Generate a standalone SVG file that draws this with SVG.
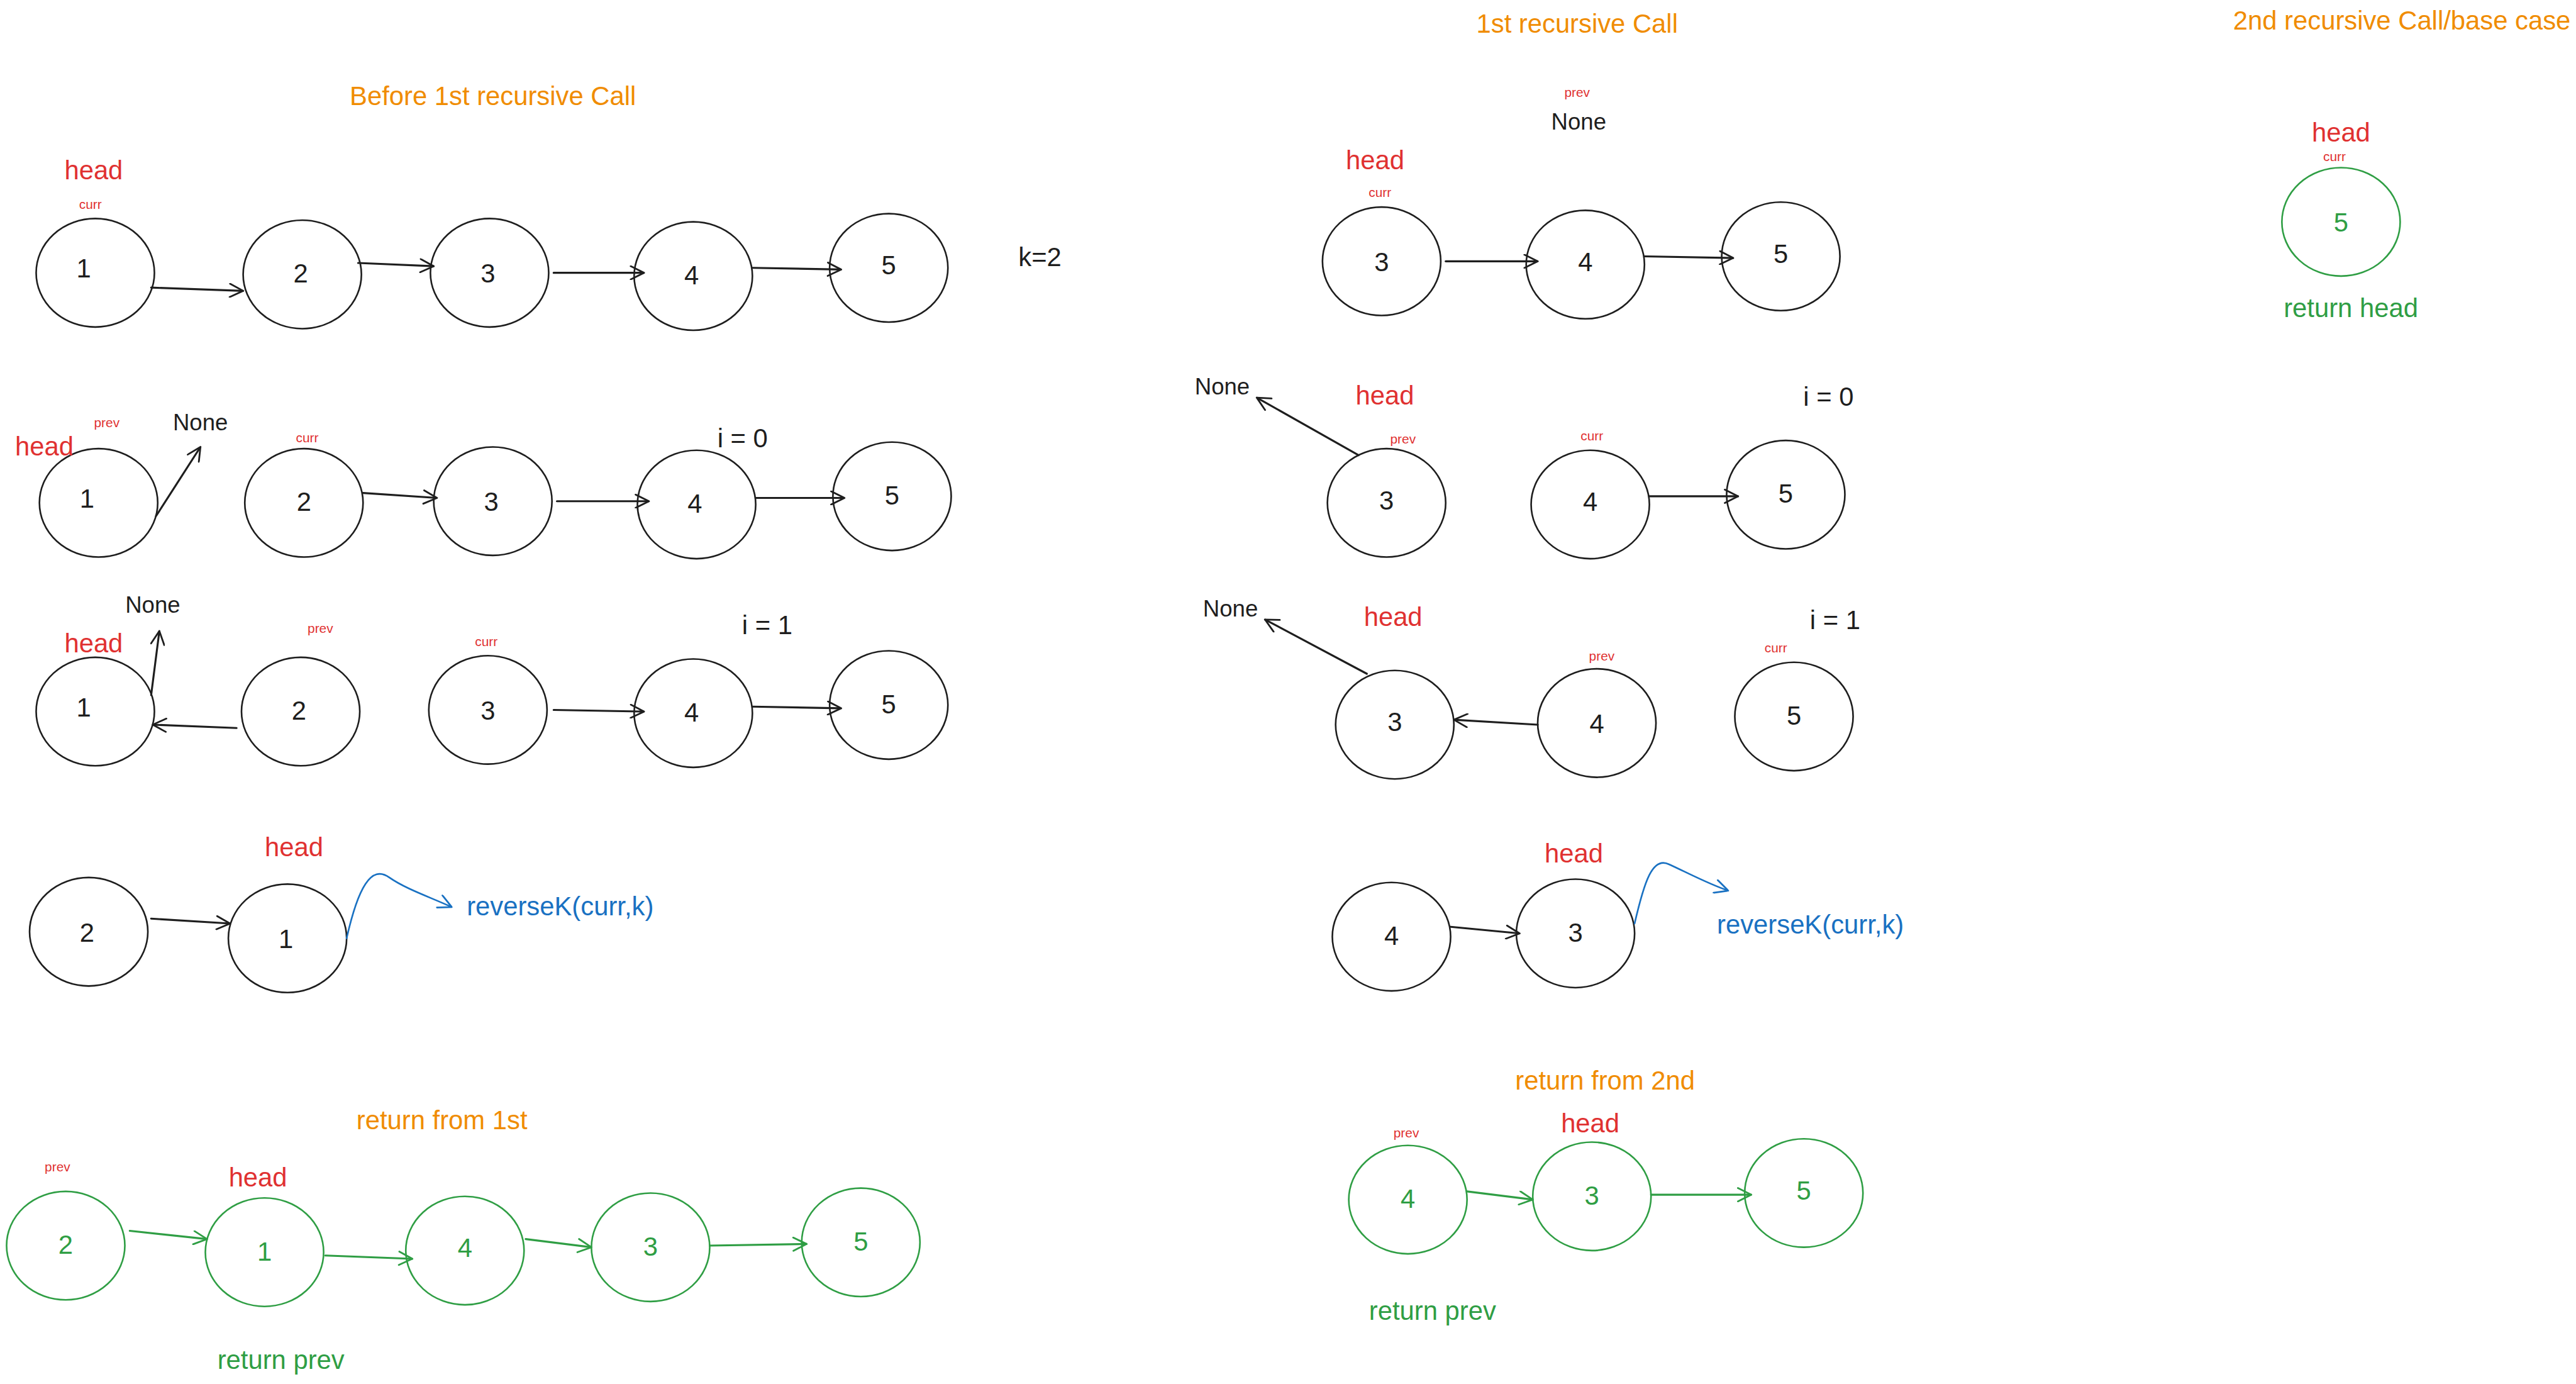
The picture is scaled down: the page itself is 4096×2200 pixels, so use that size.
<svg xmlns="http://www.w3.org/2000/svg" width="4096" height="2200" viewBox="0 0 4096 2200">
<style>
  text { font-family: "Liberation Sans", Arial, sans-serif; text-anchor: middle; }
  .n { fill: none; stroke: #1e1e1e; stroke-width: 1; }
  .ng { fill: none; stroke: #2f9e44; stroke-width: 1; }
  .d { font-size: 16px; fill: #1e1e1e; }
  .dg { font-size: 16px; fill: #2f9e44; }
  .t { font-size: 16px; fill: #f08c00; }
  .h { font-size: 16px; fill: #e03131; }
  .s { font-size: 8px; fill: #e03131; }
  .b { font-size: 16px; fill: #1e1e1e; }
  .none { font-size: 14px; fill: #1e1e1e; }
  .bl { font-size: 16px; fill: #1971c2; }
  .gr { font-size: 16px; fill: #2f9e44; }
  .c { fill: none; stroke: #1e1e1e; stroke-width: 1.2; stroke-linecap: round; marker-end: url(#ak); }
  .cg { fill: none; stroke: #2f9e44; stroke-width: 1.2; stroke-linecap: round; marker-end: url(#ag); }
  .cb { fill: none; stroke: #1971c2; stroke-width: 1; stroke-linecap: round; marker-end: url(#ab); }
</style>
<defs>
  <marker id="ak" viewBox="0 0 10 10" refX="10" refY="5" markerWidth="9" markerHeight="9" markerUnits="userSpaceOnUse" orient="auto">
    <path d="M1,0.5 L10,5 L1,9.5" fill="none" stroke="#1e1e1e" stroke-width="1.2" stroke-linecap="round" stroke-linejoin="round"/>
  </marker>
  <marker id="ag" viewBox="0 0 10 10" refX="10" refY="5" markerWidth="9" markerHeight="9" markerUnits="userSpaceOnUse" orient="auto">
    <path d="M1,0.5 L10,5 L1,9.5" fill="none" stroke="#2f9e44" stroke-width="1.2" stroke-linecap="round" stroke-linejoin="round"/>
  </marker>
  <marker id="ab" viewBox="0 0 10 10" refX="10" refY="5" markerWidth="9" markerHeight="9" markerUnits="userSpaceOnUse" orient="auto">
    <path d="M1,0.5 L10,5 L1,9.5" fill="none" stroke="#1971c2" stroke-width="1.2" stroke-linecap="round" stroke-linejoin="round"/>
  </marker>
</defs>
<rect width="4096" height="2200" fill="#ffffff"/>
<g transform="scale(2.6122)">
  <!-- Left column, row 1 -->
  <g id="r1-n1"><ellipse class="n" cx="58" cy="166" rx="36" ry="33"/><text class="d" x="51" y="169">1</text></g>
  <g id="r1-n2"><ellipse class="n" cx="184" cy="167" rx="36" ry="33"/><text class="d" x="183" y="172">2</text></g>
  <g id="r1-n3"><ellipse class="n" cx="298" cy="166" rx="36" ry="33"/><text class="d" x="297" y="172">3</text></g>
  <g id="r1-n4"><ellipse class="n" cx="422" cy="168" rx="36" ry="33"/><text class="d" x="421" y="173">4</text></g>
  <g id="r1-n5"><ellipse class="n" cx="541" cy="163" rx="36" ry="33"/><text class="d" x="541" y="167">5</text></g>

  <!-- Left column, row 2 -->
  <g id="r2-n1"><ellipse class="n" cx="60" cy="306" rx="36" ry="33"/><text class="d" x="53" y="309">1</text></g>
  <g id="r2-n2"><ellipse class="n" cx="185" cy="306" rx="36" ry="33"/><text class="d" x="185" y="311">2</text></g>
  <g id="r2-n3"><ellipse class="n" cx="300" cy="305" rx="36" ry="33"/><text class="d" x="299" y="311">3</text></g>
  <g id="r2-n4"><ellipse class="n" cx="424" cy="307" rx="36" ry="33"/><text class="d" x="423" y="312">4</text></g>
  <g id="r2-n5"><ellipse class="n" cx="543" cy="302" rx="36" ry="33"/><text class="d" x="543" y="307">5</text></g>

  <!-- Left column, row 3 -->
  <g id="r3-n1"><ellipse class="n" cx="58" cy="433" rx="36" ry="33"/><text class="d" x="51" y="436">1</text></g>
  <g id="r3-n2"><ellipse class="n" cx="183" cy="433" rx="36" ry="33"/><text class="d" x="182" y="438">2</text></g>
  <g id="r3-n3"><ellipse class="n" cx="297" cy="432" rx="36" ry="33"/><text class="d" x="297" y="438">3</text></g>
  <g id="r3-n4"><ellipse class="n" cx="422" cy="434" rx="36" ry="33"/><text class="d" x="421" y="439">4</text></g>
  <g id="r3-n5"><ellipse class="n" cx="541" cy="429" rx="36" ry="33"/><text class="d" x="541" y="434">5</text></g>

  <!-- Left column, row 4 -->
  <g id="r4-n2"><ellipse class="n" cx="54" cy="567" rx="36" ry="33"/><text class="d" x="53" y="573">2</text></g>
  <g id="r4-n1"><ellipse class="n" cx="175" cy="571" rx="36" ry="33"/><text class="d" x="174" y="577">1</text></g>

  <!-- Left column, row 5 (green) -->
  <g id="r5-n2"><ellipse class="ng" cx="40" cy="758" rx="36" ry="33"/><text class="dg" x="40" y="763">2</text></g>
  <g id="r5-n1"><ellipse class="ng" cx="161" cy="762" rx="36" ry="33"/><text class="dg" x="161" y="767">1</text></g>
  <g id="r5-n4"><ellipse class="ng" cx="283" cy="761" rx="36" ry="33"/><text class="dg" x="283" y="765">4</text></g>
  <g id="r5-n3"><ellipse class="ng" cx="396" cy="759" rx="36" ry="33"/><text class="dg" x="396" y="764">3</text></g>
  <g id="r5-n5"><ellipse class="ng" cx="524" cy="756" rx="36" ry="33"/><text class="dg" x="524" y="761">5</text></g>

  <!-- Middle column -->
  <g id="m1-n3"><ellipse class="n" cx="841" cy="159" rx="36" ry="33"/><text class="d" x="841" y="165">3</text></g>
  <g id="m1-n4"><ellipse class="n" cx="965" cy="161" rx="36" ry="33"/><text class="d" x="965" y="165">4</text></g>
  <g id="m1-n5"><ellipse class="n" cx="1084" cy="156" rx="36" ry="33"/><text class="d" x="1084" y="160">5</text></g>

  <g id="m2-n3"><ellipse class="n" cx="844" cy="306" rx="36" ry="33"/><text class="d" x="844" y="310">3</text></g>
  <g id="m2-n4"><ellipse class="n" cx="968" cy="307" rx="36" ry="33"/><text class="d" x="968" y="311">4</text></g>
  <g id="m2-n5"><ellipse class="n" cx="1087" cy="301" rx="36" ry="33"/><text class="d" x="1087" y="306">5</text></g>

  <g id="m3-n3"><ellipse class="n" cx="849" cy="441" rx="36" ry="33"/><text class="d" x="849" y="445">3</text></g>
  <g id="m3-n4"><ellipse class="n" cx="972" cy="440" rx="36" ry="33"/><text class="d" x="972" y="446">4</text></g>
  <g id="m3-n5"><ellipse class="n" cx="1092" cy="436" rx="36" ry="33"/><text class="d" x="1092" y="441">5</text></g>

  <g id="m4-n4"><ellipse class="n" cx="847" cy="570" rx="36" ry="33"/><text class="d" x="847" y="575">4</text></g>
  <g id="m4-n3"><ellipse class="n" cx="959" cy="568" rx="36" ry="33"/><text class="d" x="959" y="573">3</text></g>

  <g id="m5-n4"><ellipse class="ng" cx="857" cy="730" rx="36" ry="33"/><text class="dg" x="857" y="735">4</text></g>
  <g id="m5-n3"><ellipse class="ng" cx="969" cy="728" rx="36" ry="33"/><text class="dg" x="969" y="733">3</text></g>
  <g id="m5-n5"><ellipse class="ng" cx="1098" cy="726" rx="36" ry="33"/><text class="dg" x="1098" y="730">5</text></g>

  <!-- Right column -->
  <g id="r-n5"><ellipse class="ng" cx="1425" cy="135" rx="36" ry="33"/><text class="dg" x="1425" y="141">5</text></g>

  <g id="labels">
    <text class="t" x="300" y="64">Before 1st recursive Call</text>
    <text class="h" x="57" y="109">head</text>
    <text class="s" x="55" y="127">curr</text>
    <text class="b" x="633" y="162">k=2</text>

    <text class="h" x="27" y="277">head</text>
    <text class="s" x="65" y="260">prev</text>
    <text class="none" x="122" y="262">None</text>
    <text class="s" x="187" y="269">curr</text>
    <text class="b" x="452" y="272">i = 0</text>

    <text class="none" x="93" y="373">None</text>
    <text class="h" x="57" y="397">head</text>
    <text class="s" x="195" y="385">prev</text>
    <text class="s" x="296" y="393">curr</text>
    <text class="b" x="467" y="386">i = 1</text>

    <text class="h" x="179" y="521">head</text>
    <text class="bl" x="341" y="557">reverseK(curr,k)</text>

    <text class="t" x="269" y="687">return from 1st</text>
    <text class="s" x="35" y="713">prev</text>
    <text class="h" x="157" y="722">head</text>
    <text class="gr" x="171" y="833">return prev</text>

    <text class="t" x="960" y="20">1st recursive Call</text>
    <text class="s" x="960" y="59">prev</text>
    <text class="none" x="961" y="79">None</text>
    <text class="h" x="837" y="103">head</text>
    <text class="s" x="840" y="120">curr</text>

    <text class="none" x="744" y="240">None</text>
    <text class="h" x="843" y="246">head</text>
    <text class="s" x="854" y="270">prev</text>
    <text class="s" x="969" y="268">curr</text>
    <text class="b" x="1113" y="247">i = 0</text>

    <text class="none" x="749" y="375">None</text>
    <text class="h" x="848" y="381">head</text>
    <text class="s" x="975" y="402">prev</text>
    <text class="s" x="1081" y="397">curr</text>
    <text class="b" x="1117" y="383">i = 1</text>

    <text class="h" x="958" y="525">head</text>
    <text class="bl" x="1102" y="568">reverseK(curr,k)</text>

    <text class="t" x="977" y="663">return from 2nd</text>
    <text class="h" x="968" y="689">head</text>
    <text class="s" x="856" y="692">prev</text>
    <text class="gr" x="872" y="803">return prev</text>

    <text class="t" x="1462" y="18">2nd recursive Call/base case</text>
    <text class="h" x="1425" y="86">head</text>
    <text class="s" x="1421" y="98">curr</text>
    <text class="gr" x="1431" y="193">return head</text>
  </g>

  <g id="connectors">
    <line class="c" x1="92" y1="175" x2="148" y2="177"/>
    <line class="c" x1="218" y1="160" x2="264" y2="162"/>
    <line class="c" x1="337" y1="166" x2="392" y2="166"/>
    <line class="c" x1="458" y1="163" x2="512" y2="164"/>
    <line class="c" x1="95" y1="314" x2="122" y2="272"/>
    <line class="c" x1="221" y1="300" x2="266" y2="303"/>
    <line class="c" x1="339" y1="305" x2="395" y2="305"/>
    <line class="c" x1="460" y1="303" x2="514" y2="303"/>
    <line class="c" x1="92" y1="423" x2="97" y2="384"/>
    <line class="c" x1="144" y1="443" x2="93" y2="441"/>
    <line class="c" x1="337" y1="432" x2="392" y2="433"/>
    <line class="c" x1="458" y1="430" x2="512" y2="431"/>
    <line class="c" x1="92" y1="559" x2="140" y2="562"/>
    <path class="cb" d="M211,571 C218,540 226,526 237,534 C247,541 262,546 275,552"/>
    <line class="cg" x1="79" y1="749" x2="126" y2="754"/>
    <line class="cg" x1="198" y1="764" x2="251" y2="766"/>
    <line class="cg" x1="320" y1="754" x2="360" y2="759"/>
    <line class="cg" x1="432" y1="758" x2="491" y2="757"/>
    <line class="c" x1="880" y1="159" x2="936" y2="159"/>
    <line class="c" x1="1001" y1="156" x2="1055" y2="157"/>
    <line class="c" x1="827" y1="277" x2="765" y2="242"/>
    <line class="c" x1="1004" y1="302" x2="1058" y2="302"/>
    <line class="c" x1="832" y1="410" x2="770" y2="377"/>
    <line class="c" x1="936" y1="441" x2="885" y2="438"/>
    <line class="c" x1="883" y1="564" x2="925" y2="568"/>
    <path class="cb" d="M995,562 C1001,536 1006,521 1016,526 C1027,531 1040,538 1052,542"/>
    <line class="cg" x1="893" y1="725" x2="933" y2="730"/>
    <line class="cg" x1="1005" y1="727" x2="1066" y2="727"/>
  </g>
</g>
</svg>
